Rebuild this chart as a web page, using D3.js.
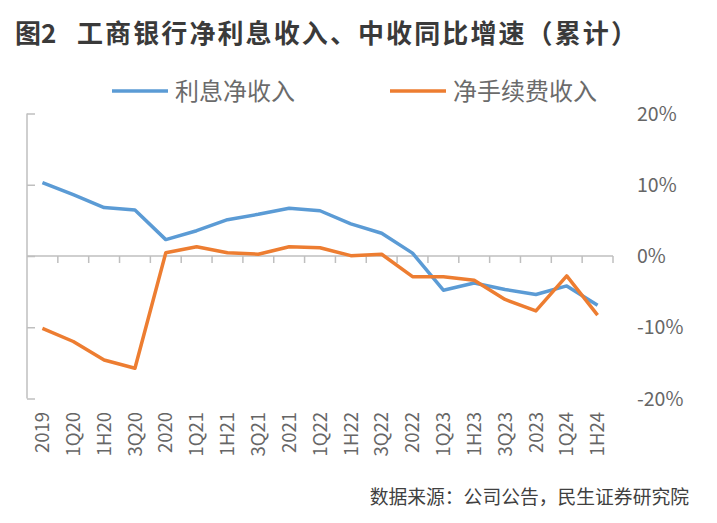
<!DOCTYPE html>
<html><head><meta charset="utf-8">
<script src="https://cdn.jsdelivr.net/npm/d3@7/dist/d3.min.js"></script>
<style>
html,body{margin:0;padding:0;background:#fff;}
svg text{font-family:"Noto Sans CJK SC","Noto Sans",sans-serif;}
</style></head>
<body><svg id="c" width="717" height="523"></svg>
<script>
const categories = ["2019","1Q20","1H20","3Q20","2020","1Q21","1H21","3Q21","2021","1Q22","1H22","3Q22","2022","1Q23","1H23","3Q23","2023","1Q24","1H24"];
const netInterest = [10.3, 8.6, 6.8, 6.45, 2.3, 3.55, 5.1, 5.85, 6.7, 6.35, 4.5, 3.2, 0.4, -4.8, -3.8, -4.7, -5.4, -4.2, -6.9];
const netFee = [-10.15, -12.0, -14.6, -15.75, 0.45, 1.3, 0.45, 0.25, 1.3, 1.15, 0.05, 0.25, -2.9, -2.9, -3.4, -6.1, -7.7, -2.8, -8.3];
const yTicks = [20, 10, 0, -10, -20];
const seriesNames = ["利息净收入", "净手续费收入"];
const colors = ["#5b9bd5", "#ed7d31"];
const titleHead = "图2";
const titleBody = "工商银行净利息收入、中收同比增速（累计）";
const source = "数据来源：公司公告，民生证券研究院";

const svg = d3.select("#c");
const x = d3.scaleBand().domain(categories).range([27, 613]);
const y = d3.scaleLinear().domain([-20, 20]).range([398.5, 113.5]);
const axisColor = "#bfbfbf";

// title
const t = svg.append("text").attr("y", 43).attr("font-size", 26).attr("font-weight", "bold").attr("fill", "#3a3a3a");
t.append("tspan").attr("x", 15).text(titleHead);
t.append("tspan").attr("x", 77).attr("letter-spacing", 2.1).text(titleBody);

// legend
const legendPos = [[112, 175], [390, 453]];
seriesNames.forEach((n, i) => {
  svg.append("line").attr("x1", legendPos[i][0]).attr("x2", legendPos[i][0] + 56)
    .attr("y1", 91).attr("y2", 91).attr("stroke", colors[i]).attr("stroke-width", 3.5);
  svg.append("text").attr("x", legendPos[i][1]).attr("y", 99.5).attr("font-size", 24)
    .attr("fill", "#6b6b6b").text(n);
});

// left axis (ticks inward, no labels)
const left = svg.append("g").attr("transform", "translate(27,0)")
  .call(d3.axisRight(y).tickValues(yTicks).tickSize(8).tickFormat(""));
left.select(".domain").attr("stroke", axisColor).attr("stroke-width", 1.5).attr("d", `M0,${y(20)}V${y(-20)}`);
left.selectAll(".tick line").attr("stroke", axisColor).attr("stroke-width", 1.5);

// right labels
svg.append("g").selectAll("text").data(yTicks).join("text")
  .attr("x", 637).attr("y", d => y(d)).attr("dy", "0.36em").attr("font-size", 19.5)
  .attr("fill", "#666").text(d => d + "%");

// x axis at 0
const xAxis = svg.append("g").attr("transform", `translate(0,${y(0)})`);
xAxis.append("line").attr("x1", 27).attr("x2", 613).attr("stroke", axisColor).attr("stroke-width", 1.5);
xAxis.selectAll("line.t").data(categories).join("line").attr("class", "t")
  .attr("x1", d => x(d) + x.bandwidth()).attr("x2", d => x(d) + x.bandwidth())
  .attr("y1", 0).attr("y2", 7).attr("stroke", axisColor).attr("stroke-width", 1.5);

// x labels (rotated)
svg.append("g").selectAll("text").data(categories).join("text")
  .attr("transform", d => `translate(${x(d) + x.bandwidth() / 2},412) rotate(-90)`)
  .attr("text-anchor", "end").attr("dy", "0.36em").attr("font-size", 18.5).attr("fill", "#666").text(d => d);

// lines
const line = d3.line().x((d, i) => x(categories[i]) + x.bandwidth() / 2).y(d => y(d));
[netInterest, netFee].forEach((s, i) => {
  svg.append("path").datum(s).attr("d", line).attr("fill", "none")
    .attr("stroke", colors[i]).attr("stroke-width", 3.5).attr("stroke-linejoin", "round");
});

// source
svg.append("text").attr("x", 689).attr("y", 504).attr("text-anchor", "end").attr("font-size", 18.8)
  .attr("fill", "#404040").text(source);
</script></body></html>
